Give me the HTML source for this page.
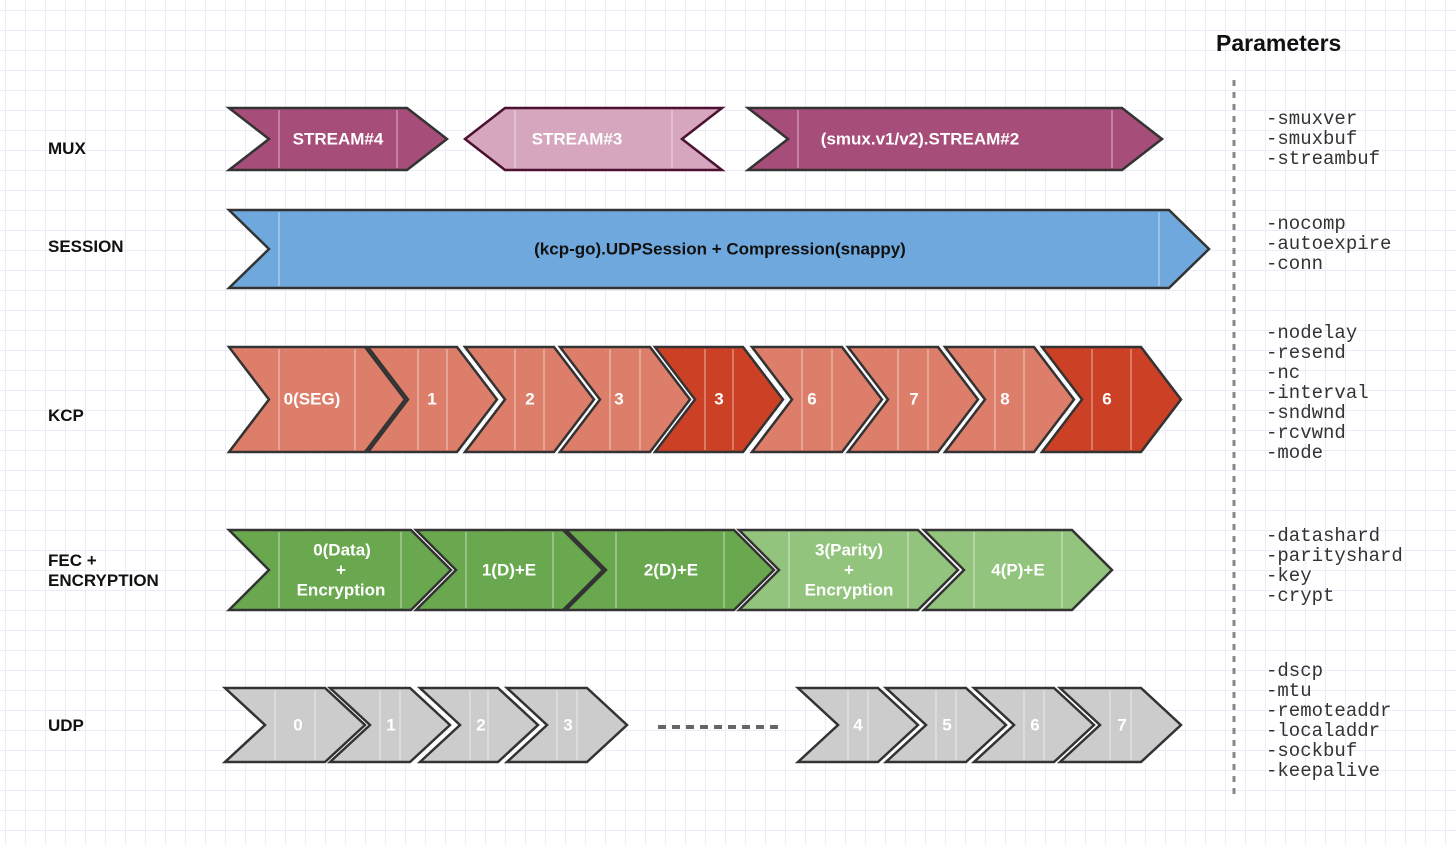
<!DOCTYPE html>
<html><head><meta charset="utf-8">
<style>
html,body{margin:0;padding:0;background:#fff;}
body{width:1456px;height:844px;overflow:hidden;
background-image:linear-gradient(to right,#ececf9 1px,transparent 1px),linear-gradient(to bottom,#ececf9 1px,transparent 1px);
background-size:20px 20px;background-position:5px 10px;}
svg{position:absolute;left:0;top:0;}
.lbl{font-family:"Liberation Sans",sans-serif;font-weight:bold;font-size:17px;fill:#111;}
.w{font-family:"Liberation Sans",sans-serif;font-weight:bold;font-size:17px;fill:#fff;text-anchor:middle;dominant-baseline:central;}
.p{font-family:"Liberation Mono",monospace;font-size:19px;fill:#333;}
</style></head><body>
<svg id="s" width="1456" height="844" xmlns="http://www.w3.org/2000/svg">
<g id="shapes"></g>
<!-- labels -->
<text class="lbl" x="48" y="154">MUX</text>
<text class="lbl" x="48" y="252">SESSION</text>
<text class="lbl" x="48" y="421">KCP</text>
<text class="lbl" x="48" y="566">FEC +</text>
<text class="lbl" x="48" y="586">ENCRYPTION</text>
<text class="lbl" x="48" y="731">UDP</text>
<text x="1216" y="51" style="font-family:'Liberation Sans',sans-serif;font-weight:bold;font-size:23px;fill:#111">Parameters</text>
<line x1="1234" y1="80" x2="1234" y2="795" stroke="#888" stroke-width="3" stroke-dasharray="6,6"/>
<line x1="658" y1="727" x2="778" y2="727" stroke="#666" stroke-width="4" stroke-dasharray="8,6"/>
<!-- params -->
<g class="p">
<text x="1266" y="124">-smuxver</text><text x="1266" y="144">-smuxbuf</text><text x="1266" y="164">-streambuf</text>
<text x="1266" y="229">-nocomp</text><text x="1266" y="249">-autoexpire</text><text x="1266" y="269">-conn</text>
<text x="1266" y="338">-nodelay</text><text x="1266" y="358">-resend</text><text x="1266" y="378">-nc</text><text x="1266" y="398">-interval</text><text x="1266" y="418">-sndwnd</text><text x="1266" y="438">-rcvwnd</text><text x="1266" y="458">-mode</text>
<text x="1266" y="541">-datashard</text><text x="1266" y="561">-parityshard</text><text x="1266" y="581">-key</text><text x="1266" y="601">-crypt</text>
<text x="1266" y="676">-dscp</text><text x="1266" y="696">-mtu</text><text x="1266" y="716">-remoteaddr</text><text x="1266" y="736">-localaddr</text><text x="1266" y="756">-sockbuf</text><text x="1266" y="776">-keepalive</text>
</g>
<g id="texts">
<text class="w" x="338" y="139">STREAM#4</text>
<text class="w" x="577" y="139">STREAM#3</text>
<text class="w" x="920" y="139">(smux.v1/v2).STREAM#2</text>
<text class="w" x="720" y="249" style="fill:#111">(kcp-go).UDPSession + Compression(snappy)</text>
<text class="w" x="312" y="399">0(SEG)</text><text class="w" x="432" y="399">1</text><text class="w" x="530" y="399">2</text><text class="w" x="619" y="399">3</text><text class="w" x="719" y="399">3</text><text class="w" x="812" y="399">6</text><text class="w" x="914" y="399">7</text><text class="w" x="1005" y="399">8</text><text class="w" x="1107" y="399">6</text>
<text class="w" x="342" y="550">0(Data)</text><text class="w" x="341" y="570">+</text><text class="w" x="341" y="590">Encryption</text>
<text class="w" x="509" y="570">1(D)+E</text><text class="w" x="671" y="570">2(D)+E</text>
<text class="w" x="849" y="550">3(Parity)</text><text class="w" x="849" y="570">+</text><text class="w" x="849" y="590">Encryption</text>
<text class="w" x="1018" y="570">4(P)+E</text>
<text class="w" x="298" y="725">0</text><text class="w" x="391" y="725">1</text><text class="w" x="481" y="725">2</text><text class="w" x="568" y="725">3</text><text class="w" x="858" y="725">4</text><text class="w" x="947" y="725">5</text><text class="w" x="1035" y="725">6</text><text class="w" x="1122" y="725">7</text>
</g>
</svg>
<script>
(function(){
var g=document.getElementById('shapes'),NS='http://www.w3.org/2000/svg';
function chev(L,T,t,b,fill,stroke,rev,d){
 d=d||40;var m=(t+b)/2,pts;
 if(!rev) pts=[[L,t],[T-d,t],[T,m],[T-d,b],[L,b],[L+d,m]];
 else pts=[[L+d,t],[T,t],[T-d,m],[T,b],[L+d,b],[L,m]];
 var p=document.createElementNS(NS,'polygon');
 p.setAttribute('points',pts.map(function(a){return a.join(',')}).join(' '));
 p.setAttribute('fill',fill);p.setAttribute('stroke',stroke||'#333');p.setAttribute('stroke-width','2.5');p.setAttribute('stroke-linejoin','miter');
 g.appendChild(p);
 [L+50,T-50].forEach(function(x){var l=document.createElementNS(NS,'line');l.setAttribute('x1',x);l.setAttribute('x2',x);l.setAttribute('y1',t+2);l.setAttribute('y2',b-2);l.setAttribute('stroke','rgba(255,255,255,0.3)');l.setAttribute('stroke-width','2');g.appendChild(l);});
}
chev(229,447,108,170,'#a64d79');
chev(465,722,108,170,'#d5a6bd','#4c1130',true);
chev(748,1162,108,170,'#a64d79');
chev(229,1209,210,288,'#6fa8dc');
var kl=[229,368,465,560,655,752,848,945,1042],kt=[405,497,594,690,783,882,978,1074,1181];
for(var i=0;i<9;i++)chev(kl[i],kt[i],347,452,(i==4||i==8)?'#cc4125':'#dd7e6b');
var fl=[229,416,566,739,924],ft=[451,603,774,958,1112];
for(i=0;i<5;i++)chev(fl[i],ft[i],530,610,i<3?'#6aa84f':'#93c47d');
var ul=[225,330,420,507,798,886,974,1060],ut=[365,450,538,627,918,1006,1094,1181];
for(i=0;i<8;i++)chev(ul[i],ut[i],688,762,'#cccccc');
})();
</script>
</body></html>
